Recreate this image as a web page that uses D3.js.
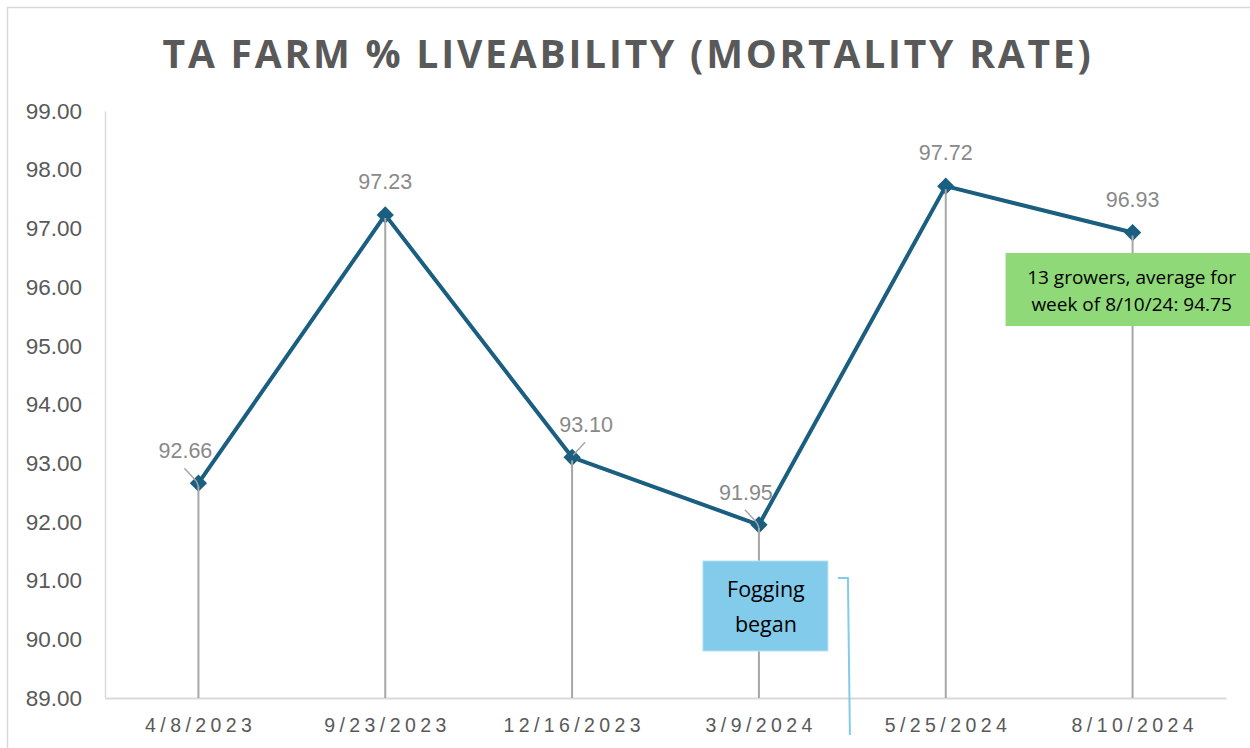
<!DOCTYPE html>
<html><head><meta charset="utf-8">
<script src="https://cdn.jsdelivr.net/npm/d3@7"></script>
<style>body{margin:0;background:#fff}svg{display:block}</style>
</head><body>
<svg id="c" width="1250" height="748"></svg>
<script>
const categories = ["4/8/2023","9/23/2023","12/16/2023","3/9/2024","5/25/2024","8/10/2024"];
const liveability = [92.66, 97.23, 93.10, 91.95, 97.72, 96.93];
const yTicks = [89,90,91,92,93,94,95,96,97,98,99];
const labelPlacement = ["left","above","right","left","above","above"];
const title = "TA FARM % LIVEABILITY (MORTALITY RATE)";
const noteFogging = ["Fogging","began"];
const noteGrowers = ["13 growers, average for","week of 8/10/24: 94.75"];

const svg = d3.select("#c");
const W=1250,H=748;
const m={l:105,r:24,t:111,b:50};
svg.append("rect").attr("x",7.5).attr("y",7.5).attr("width",W).attr("height",H)
  .attr("fill","#fff").attr("stroke","#d9d9d9").attr("stroke-width",1.5);

const x=d3.scaleBand().domain(categories).range([m.l,W-m.r]);
const y=d3.scaleLinear().domain([89,99]).range([H-m.b,m.t]);

svg.append("text").attr("x",628).attr("y",68).attr("text-anchor","middle")
  .attr("font-family","'Open Sans','DejaVu Sans',sans-serif").attr("font-weight","bold")
  .attr("font-size",39).attr("letter-spacing",2.8).attr("fill","#595959").text(title);

const yAxis=svg.append("g").attr("transform",`translate(${m.l},0)`)
  .call(d3.axisLeft(y).tickValues(yTicks).tickFormat(d3.format(".2f")).tickSize(0).tickPadding(23));
yAxis.select(".domain").attr("stroke","#d9d9d9").attr("stroke-width",1.5);
yAxis.selectAll("text").attr("font-family","'Liberation Sans',Arial,sans-serif").attr("font-size",22.5).attr("fill","#595959");

const xAxis=svg.append("g").attr("transform",`translate(0,${H-m.b})`)
  .call(d3.axisBottom(x).tickSize(0).tickPadding(20));
xAxis.select(".domain").attr("stroke","#d9d9d9").attr("stroke-width",2);
xAxis.selectAll("text").attr("font-family","'Liberation Sans',Arial,sans-serif").attr("font-size",19.5)
  .attr("letter-spacing",4.4).attr("dx",2.2).attr("fill","#595959");

const cx=d=>x(d)+x.bandwidth()/2;
const data=categories.map((c,i)=>({c,v:liveability[i],p:labelPlacement[i]}));

svg.append("path").datum(data).attr("fill","none").attr("stroke","#1a5e80").attr("stroke-width",4)
  .attr("stroke-linejoin","round")
  .attr("d",d3.line().x(d=>cx(d.c)).y(d=>y(d.v)));
svg.selectAll(".mk").data(data).join("path").attr("class","mk")
  .attr("transform",d=>`translate(${cx(d.c)},${y(d.v)})`)
  .attr("d",d3.symbol(d3.symbolDiamond2,190)).attr("fill","#1a5e80");

svg.selectAll(".drop").data(data).join("line").attr("class","drop")
  .attr("x1",d=>cx(d.c)).attr("x2",d=>cx(d.c))
  .attr("y1",d=>y(d.v)+3).attr("y2",H-m.b)
  .attr("stroke","#a6a6a6").attr("stroke-width",2);

const lf={"font-family":"'Liberation Sans',Arial,sans-serif","font-size":21.5,"fill":"#898989"};
data.forEach(d=>{
  const px=cx(d.c),py=y(d.v);
  let tx=px,ty=py-26,anchor="middle";
  if(d.p==="left"){tx=px-13;ty=py-25;
    svg.append("line").attr("x1",px-14).attr("y1",py-15).attr("x2",px-2).attr("y2",py-2)
      .attr("stroke","#a6a6a6").attr("stroke-width",1.5);
    svg.append("line").attr("x1",px-2).attr("y1",py-2).attr("x2",px).attr("y2",py+3)
      .attr("stroke","#a6a6a6").attr("stroke-width",1.5);
  }
  if(d.p==="right"){tx=px+14;ty=py-25;
    svg.append("line").attr("x1",px+13).attr("y1",py-15).attr("x2",px+1).attr("y2",py-2)
      .attr("stroke","#a6a6a6").attr("stroke-width",1.5);
  }
  const t=svg.append("text").attr("x",tx).attr("y",ty).attr("text-anchor",anchor).text(d.v.toFixed(2));
  Object.entries(lf).forEach(([k,v])=>t.attr(k,v));
});

const fx=cx(categories[3]);
svg.append("rect").attr("x",fx-56).attr("y",561).attr("width",125).attr("height",90)
  .attr("fill","#83cbeb").attr("stroke","#b9e1f3").attr("stroke-width",1);
svg.append("polyline").attr("points",`${fx+79},578 ${fx+89},578 ${fx+91},735`)
  .attr("fill","none").attr("stroke","#83cbeb").attr("stroke-width",2);
noteFogging.forEach((s,i)=>svg.append("text").attr("x",fx+7).attr("y",597+i*35).attr("text-anchor","middle")
  .attr("font-family","'Open Sans','DejaVu Sans',sans-serif").attr("font-size",21.5).attr("fill","#000").text(s));

const gx=cx(categories[5]);
svg.append("rect").attr("x",gx-127).attr("y",253).attr("width",250).attr("height",73).attr("fill","#8fd978");
noteGrowers.forEach((s,i)=>svg.append("text").attr("x",gx-1).attr("y",284+i*27).attr("text-anchor","middle")
  .attr("font-family","'Open Sans','DejaVu Sans',sans-serif").attr("font-size",19).attr("fill","#000").text(s));
</script>
</body></html>
